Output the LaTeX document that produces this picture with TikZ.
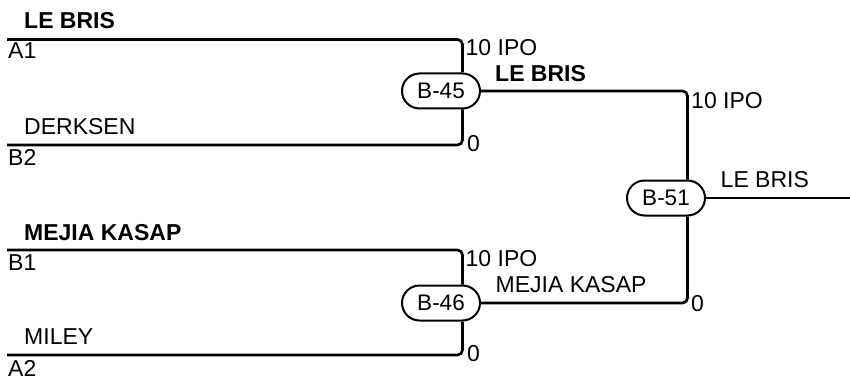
\documentclass[tikz,border=0pt]{standalone}
\usepackage{fontspec}
\setmainfont{Liberation Sans}

\begin{document}
\begin{tikzpicture}[x=1pt,y=-1pt,
    wire/.style={line width=2.7pt, rounded corners=5pt},
    game/.style={draw, line width=2pt, rounded corners=17.5pt, fill=white,
        minimum width=78pt, minimum height=35pt, inner sep=0pt,
        font=\fontsize{22.5}{26}\selectfont},
    lbl/.style={inner sep=0pt, anchor=west, font=\fontsize{23}{26}\selectfont},
    win/.style={lbl, font=\fontsize{23}{26}\selectfont\bfseries}]
\useasboundingbox (0,0) rectangle (850,377);

% the games
\node[game] (b45) at (441,91)  {B-45};
\node[game] (b46) at (441,303) {B-46};
\node[game] (b51) at (666,198) {B-51};

% entry lines
\coordinate (A1) at (7,39.5);
\coordinate (B2) at (7,145);
\coordinate (B1) at (7,250);
\coordinate (A2) at (7,355);
\coordinate (out) at (850,198);

% the players and their seeds
\node[win] (nA1) at (24,20.5)  {LE BRIS};
\node[lbl] (sA1) at (8,50.5)   {A1};
\node[lbl] (nB2) at (24,127)   {DERKSEN};
\node[lbl] (sB2) at (8,157)    {B2};
\node[win] (nB1) at (24,233)   {MEJIA KASAP};
\node[lbl] (sB1) at (8,263)    {B1};
\node[lbl] (nA2) at (24,337)   {MILEY};
\node[lbl] (sA2) at (8,368.5)  {A2};

% all of the wires
\draw[wire] (A1) -| ([xshift=21.5pt]b45.north);
\draw[wire] (B2) -| ([xshift=21.5pt]b45.south);
\draw[wire] (B1) -| ([xshift=21.5pt]b46.north);
\draw[wire] (A2) -| ([xshift=21.5pt]b46.south);
\draw[wire] (b45.east) -| ([xshift=21.5pt]b51.north);
\draw[wire] (b46.east) -| ([xshift=21.5pt]b51.south);
\draw[wire] (b51.east) -- (out);

% scores and winners
\node[lbl] (p45a) at (465.5,47.5) {10 IPO};
\node[lbl] (p45b) at (467,144)    {0};
\node[win] (w45)  at (495,73.5)   {LE BRIS};
\node[lbl] (p46a) at (465.5,259)  {10 IPO};
\node[lbl] (p46b) at (467,354)    {0};
\node[lbl] (w46)  at (495.5,285)  {MEJIA KASAP};
\node[lbl] (p51a) at (691,101)    {10 IPO};
\node[lbl] (p51b) at (691,303.5)  {0};
\node[lbl] (w51)  at (720.5,179.5) {LE BRIS};

\end{tikzpicture}
\end{document}
